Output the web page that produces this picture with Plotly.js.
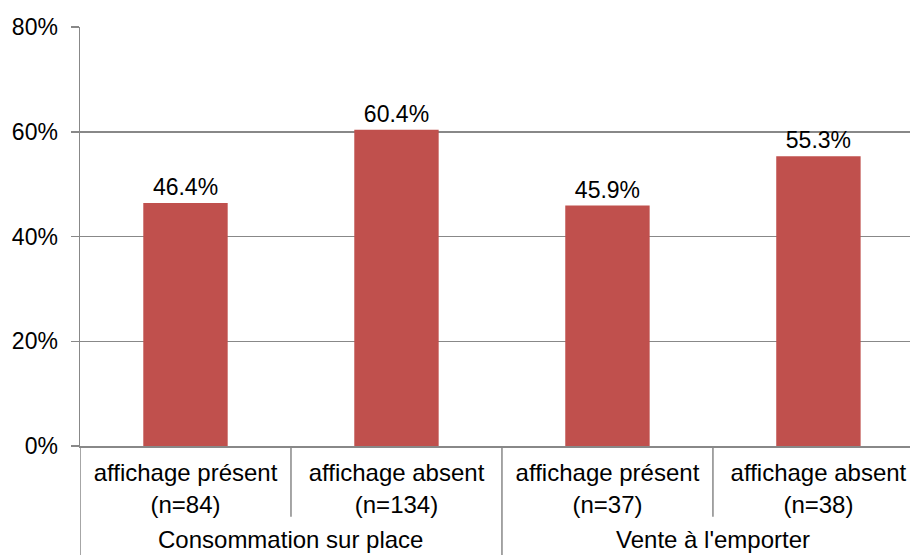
<!DOCTYPE html>
<html>
<head>
<meta charset="utf-8">
<script src="https://cdn.plot.ly/plotly-3.0.1.min.js"></script>
<style>html,body{margin:0;padding:0;background:#fff;}#chart{width:910px;height:555px;}</style>
</head>
<body>
<div id="chart"></div>
<script>
const subLabels = ["affichage présent<br>(n=84)", "affichage absent<br>(n=134)", "affichage présent<br>(n=37)", "affichage absent<br>(n=38)"];
const groupLabels = ["Consommation sur place", "Vente à l'emporter"];
const groupCenters = [0.5, 2.5];
const values = [46.4, 60.4, 45.9, 55.3];
const yTicks = [0, 20, 40, 60, 80];

const FONT = "Liberation Sans, Arial, sans-serif";
const GREY = "#888888";

const trace = {
  type: "bar",
  x: subLabels,
  y: values,
  marker: {color: "#C0504D"},
  text: values.map(v => v.toFixed(1) + "%"),
  textposition: "outside",
  textfont: {family: FONT, size: 23, color: "#000"},
  cliponaxis: false,
  hoverinfo: "none"
};

const shapes = [];
[-0.5, 1.5, 3.5].forEach(x => shapes.push({type: "line", xref: "x", yref: "paper", x0: x, x1: x, y0: 0, y1: -0.27, line: {color: GREY, width: 1.5}}));
[0.5, 2.5].forEach(x => shapes.push({type: "line", xref: "x", yref: "paper", x0: x, x1: x, y0: 0, y1: -0.169, line: {color: GREY, width: 1.5}}));

const annotations = groupLabels.map((t, i) => ({
  text: t, xref: "x", yref: "paper", x: groupCenters[i], y: -0.224,
  xanchor: "center", yanchor: "middle", showarrow: false,
  font: {family: FONT, size: 24, color: "#000"}
}));

const layout = {
  width: 910, height: 555,
  margin: {l: 80, r: 0, t: 27, b: 109},
  paper_bgcolor: "#fff", plot_bgcolor: "#fff",
  bargap: 0.6,
  showlegend: false,
  font: {family: FONT, size: 23, color: "#000"},
  xaxis: {
    type: "category",
    range: [-0.5, 3.434],
    showgrid: false,
    showline: true, linecolor: GREY, linewidth: 1.5,
    ticks: "",
    tickfont: {family: FONT, size: 24, color: "#000"},
    ticklabelstandoff: 5,
    fixedrange: true
  },
  yaxis: {
    range: [0, 80],
    tickvals: yTicks,
    ticktext: yTicks.map(v => v + "%"),
    showgrid: true, gridcolor: GREY, gridwidth: 1.5,
    showline: true, linecolor: GREY, linewidth: 1.5,
    ticks: "outside", ticklen: 8, tickcolor: GREY, tickwidth: 1.5,
    tickfont: {family: FONT, size: 23, color: "#000"},
    ticklabelstandoff: 8,
    zeroline: false,
    fixedrange: true
  },
  shapes: shapes,
  annotations: annotations
};

Plotly.newPlot("chart", [trace], layout, {displayModeBar: false, staticPlot: true});
</script>
</body>
</html>
